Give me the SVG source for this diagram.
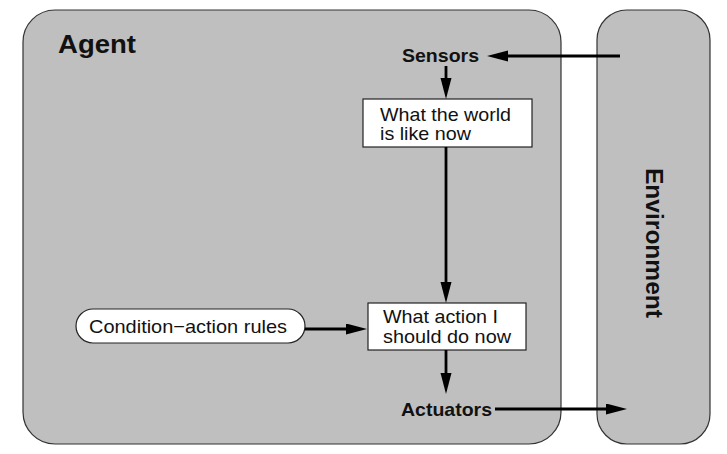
<svg xmlns="http://www.w3.org/2000/svg" width="727" height="454" viewBox="0 0 727 454">
<style>
.panel{fill:#bfbfbf;stroke:#333;stroke-width:1.2}
.box{fill:#fff;stroke:#222;stroke-width:1.2}
.lbl{font-family:"Liberation Sans",Arial,sans-serif;font-size:18.5px;fill:#111}
.bold{font-family:"Liberation Sans",Arial,sans-serif;font-weight:bold;fill:#111}
.conn{stroke:#000;stroke-width:2.8;fill:none;marker-end:url(#ah)}
</style>
<defs>
<marker id="ah" markerUnits="userSpaceOnUse" markerWidth="22" markerHeight="12" refX="0" refY="5.5" orient="auto">
<path d="M0,0 L21,5.5 L0,11 z" fill="#000"/>
</marker>
</defs>
<rect width="727" height="454" fill="#fff"/>
<g id="agent">
<rect class="panel" x="23" y="10" width="538" height="434" rx="32" ry="32"/>
<text class="bold" x="58" y="53" font-size="26" textLength="78" lengthAdjust="spacingAndGlyphs">Agent</text>
</g>
<g id="environment">
<rect class="panel" x="597" y="10" width="113" height="434" rx="30" ry="30"/>
<text class="bold" font-size="24" transform="translate(646,168) rotate(90)" textLength="150" lengthAdjust="spacingAndGlyphs">Environment</text>
</g>
<g id="sensors">
<text class="bold" x="402" y="62" font-size="18.5" textLength="77" lengthAdjust="spacingAndGlyphs">Sensors</text>
</g>
<g id="world">
<rect class="box" x="363" y="99" width="169" height="48"/>
<text class="lbl" x="380" y="121" textLength="131" lengthAdjust="spacingAndGlyphs">What the world</text>
<text class="lbl" x="380" y="140" textLength="91" lengthAdjust="spacingAndGlyphs">is like now</text>
</g>
<g id="action">
<rect class="box" x="368" y="303" width="158" height="47"/>
<text class="lbl" x="383" y="323" textLength="115" lengthAdjust="spacingAndGlyphs">What action I</text>
<text class="lbl" x="383" y="343" textLength="128" lengthAdjust="spacingAndGlyphs">should do now</text>
</g>
<g id="rules">
<rect class="box" x="76" y="309" width="229" height="34" rx="17" ry="17"/>
<text class="lbl" x="89" y="333" textLength="198" lengthAdjust="spacingAndGlyphs">Condition−action rules</text>
</g>
<g id="actuators">
<text class="bold" x="401" y="416" font-size="18.5" textLength="91" lengthAdjust="spacingAndGlyphs">Actuators</text>
</g>
<g id="connectors">
<line class="conn" x1="620" y1="56" x2="508" y2="56"/>
<line class="conn" x1="446" y1="66" x2="446" y2="78"/>
<line class="conn" x1="446" y1="147" x2="446" y2="282"/>
<line class="conn" x1="305" y1="329" x2="346" y2="329"/>
<line class="conn" x1="446" y1="350" x2="446" y2="373"/>
<line class="conn" x1="495" y1="409" x2="606" y2="409"/>
</g>
</svg>
